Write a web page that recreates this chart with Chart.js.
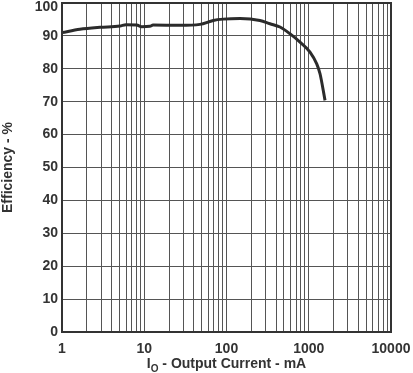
<!DOCTYPE html>
<html>
<head>
<meta charset="utf-8">
<script src="https://cdn.jsdelivr.net/npm/chart.js@4.4.0/dist/chart.umd.min.js"></script>
<style>
  html, body { margin: 0; padding: 0; background: #fff; }
  #wrap { width: 413px; height: 373px; position: relative; }
</style>
</head>
<body>
<div id="wrap"><canvas id="effChart"></canvas></div>
<script>
// output current (mA) and efficiency (%)
const currentMA = [1, 1.65, 2.9, 5.07, 6, 8.1, 9.3, 11.7, 12.8, 27, 47.6, 69, 91, 146, 255, 338, 447, 594, 783, 1036, 1250, 1371, 1577];
const efficiency = [91, 92.0, 92.6, 93.0, 93.4, 93.3, 92.8, 92.9, 93.3, 93.2, 93.5, 94.7, 95.1, 95.3, 94.7, 93.7, 92.7, 90.6, 88.1, 85.1, 81.5, 78.5, 70.4];

// gridlines at 1..9 of each decade, labels only at decades
const xGridValues = [];
for (const d of [1, 10, 100, 1000]) {
  for (let m = 1; m < 10; m++) xGridValues.push(m * d);
}
xGridValues.push(10000);
const xLabelValues = [1, 10, 100, 1000, 10000];
const xTickLabels = ["1", "10", "100", "1000", "10000"];
const yTickStep = 10;

const frame = {
  id: "frame",
  afterDraw(chart) {
    const { ctx, chartArea: a } = chart;
    ctx.save();
    ctx.strokeStyle = "#333";
    ctx.lineWidth = 2;
    ctx.strokeRect(a.left, a.top, a.right - a.left, a.bottom - a.top);

    // x title with subscript O
    ctx.fillStyle = "#333";
    ctx.textBaseline = "alphabetic";
    const big = "bold 14px 'Liberation Sans', Arial, sans-serif";
    const small = "bold 10px 'Liberation Sans', Arial, sans-serif";
    const rest = " - Output Current - mA";
    ctx.font = big;
    const wI = ctx.measureText("I").width;
    const wRest = ctx.measureText(rest).width;
    ctx.font = small;
    const wO = ctx.measureText("O").width;
    let x = (a.left + a.right) / 2 - (wI + wO + wRest) / 2;
    const base = 368;
    ctx.font = big;
    ctx.fillText("I", x, base);
    x += wI;
    ctx.font = small;
    ctx.fillText("O", x, base + 4);
    x += wO;
    ctx.font = big;
    ctx.fillText(rest, x, base);
    ctx.restore();
  }
};

const tickFont = { family: "'Liberation Sans', Arial, sans-serif", size: 14, weight: "bold" };

new Chart(document.getElementById("effChart"), {
  type: "line",
  data: {
    datasets: [{
      data: currentMA.map((c, i) => ({ x: c, y: efficiency[i] })),
      borderColor: "#2b2b2b",
      borderWidth: 3,
      pointRadius: 0,
      cubicInterpolationMode: "monotone",
      fill: false
    }]
  },
  options: {
    responsive: true,
    maintainAspectRatio: false,
    animation: false,
    layout: { padding: { top: 3, right: 22, left: 0, bottom: 0 } },
    plugins: { legend: { display: false }, tooltip: { enabled: false } },
    scales: {
      x: {
        type: "logarithmic",
        min: 1,
        max: 10000,
        afterBuildTicks(scale) {
          scale.ticks = xGridValues.map(v => ({ value: v }));
        },
        afterFit(scale) {
          scale.height = 41;
          scale.paddingLeft = 0;
          scale.paddingRight = 0;
        },
        grid: { color: "#555", lineWidth: 1, drawTicks: false },
        border: { display: false },
        ticks: {
          autoSkip: false,
          maxRotation: 0,
          padding: 9,
          color: "#333",
          font: tickFont,
          callback(v) {
            const i = xLabelValues.indexOf(v);
            return i >= 0 ? xTickLabels[i] : "";
          }
        }
      },
      y: {
        min: 0,
        max: 100,
        afterFit(scale) {
          scale.width = 62;
          scale.paddingTop = 0;
          scale.paddingBottom = 0;
        },
        grid: { color: "#555", lineWidth: 1, drawTicks: false },
        border: { display: false },
        ticks: {
          stepSize: yTickStep,
          padding: 4,
          color: "#333",
          font: c => ({ ...tickFont, lineHeight: c.tick && c.tick.value === 100 ? 0.6 : 1.2 }),
          // push the top label down so it stays inside the page
          callback: v => (v === 100 ? ["", "100"] : String(v))
        },
        title: {
          display: true,
          text: "Efficiency - %",
          color: "#333",
          font: tickFont,
          padding: { top: 0, bottom: 8 }
        }
      }
    }
  },
  plugins: [frame]
});
</script>
</body>
</html>
